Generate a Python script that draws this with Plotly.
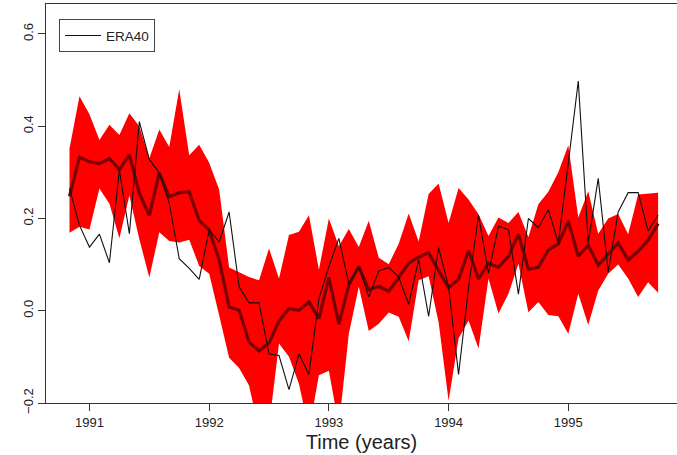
import plotly.graph_objects as go

# monthly time axis: Nov 1990 .. Oct 1995
months = [1990 + (10 + i) / 12 for i in range(60)]

era40 = [0.265, 0.185, 0.138, 0.166, 0.104, 0.305, 0.167, 0.41, 0.328, 0.299,
         0.233, 0.113, 0.092, 0.068, 0.175, 0.149, 0.214, 0.052, 0.017, 0.017,
         -0.094, -0.097, -0.171, -0.094, -0.138, 0.026, 0.095, 0.157, 0.059, 0.095,
         0.030, 0.086, 0.094, 0.073, 0.014, 0.111, -0.012, 0.137, 0.052, -0.138,
         0.05, 0.207, 0.081, 0.183, 0.176, 0.036, 0.2, 0.18, 0.219, 0.147,
         0.32, 0.498, 0.147, 0.287, 0.084, 0.214, 0.256, 0.256, 0.173, 0.207]

ens_mean = [0.248, 0.333, 0.323, 0.319, 0.330, 0.306, 0.338, 0.255, 0.206, 0.299,
            0.247, 0.256, 0.258, 0.196, 0.175, 0.110, 0.008, 0.001, -0.068, -0.087,
            -0.070, -0.022, 0.005, 0.001, 0.019, -0.017, 0.072, -0.029, 0.056, 0.096,
            0.045, 0.053, 0.042, 0.074, 0.103, 0.116, 0.126, 0.087, 0.050, 0.068,
            0.130, 0.069, 0.103, 0.094, 0.118, 0.166, 0.090, 0.094, 0.132, 0.145,
            0.194, 0.118, 0.142, 0.099, 0.122, 0.147, 0.110, 0.129, 0.153, 0.189]

ens_upper = [0.352, 0.465, 0.426, 0.370, 0.403, 0.381, 0.428, 0.400, 0.330, 0.393,
             0.355, 0.480, 0.337, 0.360, 0.321, 0.263, 0.094, 0.083, 0.073, 0.066,
             0.135, 0.070, 0.164, 0.171, 0.207, 0.089, 0.200, 0.140, 0.177, 0.138,
             0.195, 0.115, 0.101, 0.145, 0.211, 0.150, 0.253, 0.276, 0.190, 0.266,
             0.241, 0.209, 0.162, 0.202, 0.190, 0.214, 0.160, 0.231, 0.258, 0.300,
             0.359, 0.202, 0.259, 0.167, 0.200, 0.210, 0.166, 0.252, 0.254, 0.256]

ens_lower = [0.169, 0.182, 0.176, 0.265, 0.232, 0.157, 0.250, 0.155, 0.072, 0.170,
             0.151, 0.148, 0.154, 0.097, 0.080, -0.010, -0.102, -0.124, -0.162, -0.260,
             -0.250, -0.071, -0.100, -0.158, -0.260, -0.140, -0.130, -0.250, -0.050, 0.052,
             -0.044, -0.028, -0.004, -0.013, -0.066, 0.066, 0.075, -0.025, -0.195, -0.060,
             -0.021, -0.082, 0.070, -0.006, 0.037, 0.102, -0.003, 0.019, -0.009, -0.012,
             -0.050, 0.037, -0.031, 0.044, 0.080, 0.100, 0.070, 0.030, 0.062, 0.039]

x_ticks = [1991, 1992, 1993, 1994, 1995]
x_tick_labels = ["1991", "1992", "1993", "1994", "1995"]
y_ticks = [-0.2, 0.0, 0.2, 0.4, 0.6]
y_tick_labels = ["\u22120.2", "0.0", "0.2", "0.4", "0.6"]

FONT = "Liberation Sans, Arial, Helvetica, sans-serif"

fig = go.Figure()
fig.add_trace(go.Scatter(
    x=months + months[::-1], y=ens_upper + ens_lower[::-1],
    fill="toself", fillcolor="#ff0000", line=dict(width=0), mode="lines",
    showlegend=False, hoverinfo="skip"))
fig.add_trace(go.Scatter(
    x=months, y=ens_mean, mode="lines",
    line=dict(color="rgb(120,0,0)", width=3.2), showlegend=False))
fig.add_trace(go.Scatter(
    x=months, y=era40, mode="lines", name="ERA40",
    line=dict(color="#111111", width=1.1)))

fig.update_layout(
    width=677, height=455,
    margin=dict(l=46, r=0, t=4, b=52),
    paper_bgcolor="white", plot_bgcolor="white",
    font=dict(family=FONT, size=13, color="#222222"),
    showlegend=True,
    legend=dict(x=0.0206, y=0.962, xanchor="left", yanchor="top",
                bgcolor="white", bordercolor="#444444", borderwidth=1,
                font=dict(size=13.5), itemwidth=36),
    xaxis=dict(range=[1990.637, 1995.908], tickvals=x_ticks, ticktext=x_tick_labels,
               showgrid=False, zeroline=False, showline=True, linecolor="#333333",
               linewidth=1.3, mirror=True, ticks="outside", ticklen=7, tickcolor="#333333",
               title=dict(text="Time (years)", font=dict(size=20), standoff=6)),
    yaxis=dict(range=[-0.2, 0.665], tickvals=y_ticks, ticktext=y_tick_labels,
               showgrid=False, zeroline=False, showline=True, linecolor="#333333",
               linewidth=1.3, mirror=False, ticks="outside", ticklen=7, tickcolor="#333333",
               tickangle=-90),
)

fig.write_html("out.html", config={"displayModeBar": False})

# remove the default page margin so the figure sits at the window's top-left corner
with open("out.html", encoding="utf-8") as fh:
    html = fh.read()
html = html.replace("<head>", "<head><style>html,body{margin:0;padding:0;overflow:hidden;}</style>", 1)
with open("out.html", "w", encoding="utf-8") as fh:
    fh.write(html)
